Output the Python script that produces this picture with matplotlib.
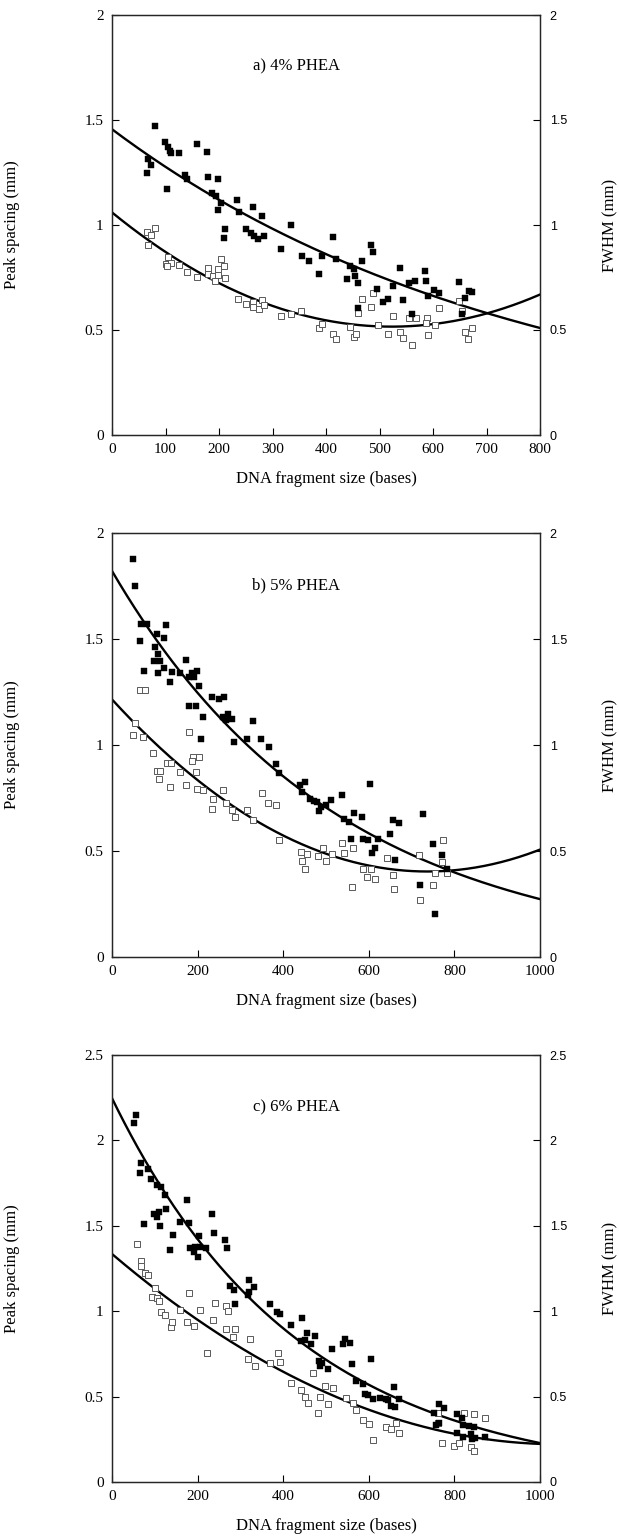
import numpy as np
import matplotlib
matplotlib.use("Agg")
import matplotlib.pyplot as plt

# ---------------- data ----------------
# Panel a) 4% PHEA
a_peak_x = [81, 99, 105, 108, 111, 125, 158, 178, 67, 73, 65, 102, 136, 140, 180, 199, 187, 194, 204, 198,
            233, 237, 263, 280, 212, 209, 251, 260, 265, 273, 285, 335, 316, 355, 369, 393, 386, 413, 419, 444,
            452, 467, 455, 440, 484, 488, 539, 459, 459, 496, 507, 516, 526, 543, 555, 567, 585, 587, 561, 602,
            611, 590, 648, 659, 667, 673, 654]
a_peak_y = [1.47, 1.395, 1.37, 1.354, 1.344, 1.343, 1.384, 1.346, 1.314, 1.286, 1.246, 1.173, 1.236, 1.219,
            1.23, 1.219, 1.152, 1.137, 1.105, 1.073, 1.12, 1.062, 1.084, 1.041, 0.979, 0.94, 0.981, 0.96, 0.949,
            0.932, 0.949, 1.0, 0.884, 0.854, 0.829, 0.854, 0.765, 0.943, 0.84, 0.803, 0.79, 0.827, 0.756, 0.743,
            0.906, 0.87, 0.797, 0.722, 0.606, 0.695, 0.632, 0.646, 0.711, 0.643, 0.725, 0.735, 0.782, 0.733,
            0.575, 0.69, 0.678, 0.662, 0.727, 0.652, 0.684, 0.683, 0.576]
a_fwhm_x = [65, 73, 81, 67, 105, 100, 110, 103, 126, 141, 159, 179, 180, 189, 198, 199, 204, 209, 212, 193,
            236, 250, 263, 274, 264, 281, 285, 316, 335, 353, 387, 393, 413, 419, 444, 452, 456, 467, 485, 488,
            459, 497, 516, 526, 539, 543, 556, 568, 560, 588, 587, 590, 604, 611, 649, 654, 659, 672, 666]
a_fwhm_y = [0.965, 0.952, 0.984, 0.905, 0.846, 0.812, 0.817, 0.806, 0.808, 0.776, 0.751, 0.794, 0.765, 0.757,
            0.762, 0.792, 0.84, 0.805, 0.748, 0.735, 0.648, 0.624, 0.635, 0.598, 0.608, 0.641, 0.619, 0.567,
            0.576, 0.592, 0.51, 0.529, 0.48, 0.457, 0.513, 0.468, 0.481, 0.646, 0.608, 0.678, 0.579, 0.525,
            0.482, 0.568, 0.489, 0.462, 0.557, 0.557, 0.429, 0.557, 0.533, 0.476, 0.524, 0.605, 0.64, 0.59,
            0.489, 0.511, 0.457]
a_peak_fit = [1.456, 762.0]                 # A * exp(-x / tau)
a_fwhm_fit = [1.0599, -0.0020807, 1.99e-6]  # c0 + c1 x + c2 x^2

# Panel b) 5% PHEA
b_peak_x = [50, 54, 68, 82, 125, 104, 65, 122, 101, 107, 97, 113, 121, 74, 108, 140, 173, 160, 179, 187, 192,
            199, 136, 203, 233, 250, 262, 181, 197, 213, 260, 271, 266, 281, 330, 209, 315, 349, 284, 366, 383,
            391, 439, 452, 443, 463, 471, 479, 483, 489, 501, 512, 537, 541, 553, 565, 585, 603, 657, 670, 727,
            559, 587, 598, 622, 649, 614, 607, 661, 749, 772, 783, 720, 755]
b_peak_y = [1.876, 1.752, 1.57, 1.572, 1.568, 1.525, 1.491, 1.505, 1.462, 1.429, 1.396, 1.398, 1.365, 1.349,
            1.338, 1.344, 1.402, 1.338, 1.319, 1.341, 1.321, 1.349, 1.296, 1.277, 1.226, 1.215, 1.226, 1.185,
            1.185, 1.13, 1.133, 1.145, 1.118, 1.121, 1.113, 1.03, 1.03, 1.03, 1.016, 0.989, 0.912, 0.867, 0.81,
            0.825, 0.777, 0.745, 0.737, 0.73, 0.689, 0.706, 0.718, 0.741, 0.766, 0.652, 0.638, 0.678, 0.66,
            0.815, 0.646, 0.633, 0.676, 0.557, 0.558, 0.55, 0.555, 0.58, 0.514, 0.491, 0.458, 0.535, 0.481,
            0.413, 0.34, 0.205]
b_fwhm_x = [65, 77, 54, 50, 73, 180, 96, 128, 137, 104, 112, 109, 136, 159, 173, 190, 204, 188, 196, 198, 213,
            260, 237, 266, 233, 281, 287, 315, 330, 350, 365, 383, 391, 442, 455, 443, 451, 482, 492, 501, 515,
            537, 542, 564, 586, 604, 595, 643, 657, 718, 755, 774, 782, 560, 615, 660, 720, 750, 770]
b_fwhm_y = [1.259, 1.259, 1.102, 1.047, 1.039, 1.06, 0.96, 0.914, 0.914, 0.879, 0.879, 0.838, 0.8, 0.874,
            0.811, 0.942, 0.942, 0.926, 0.874, 0.791, 0.786, 0.786, 0.745, 0.725, 0.697, 0.693, 0.662, 0.693,
            0.646, 0.772, 0.725, 0.717, 0.552, 0.497, 0.486, 0.453, 0.414, 0.476, 0.514, 0.454, 0.486, 0.536,
            0.489, 0.514, 0.414, 0.414, 0.379, 0.468, 0.387, 0.483, 0.395, 0.552, 0.398, 0.33, 0.37, 0.32,
            0.27, 0.34, 0.45]
b_peak_fit = [1.821, 527.0]
b_fwhm_fit = [1.215, -0.0022027, 1.4944e-6]

# Panel c) 6% PHEA
c_peak_x = [56, 51, 68, 85, 66, 90, 106, 115, 123, 127, 99, 104, 109, 75, 112, 175, 160, 180, 234, 238, 142,
            204, 265, 268, 136, 182, 194, 205, 219, 192, 201, 275, 284, 287, 320, 332, 320, 318, 369, 386, 392,
            419, 445, 455, 475, 452, 442, 465, 514, 539, 545, 556, 561, 605, 483, 491, 487, 504, 569, 586, 590,
            598, 609, 625, 640, 646, 660, 652, 662, 671, 765, 775, 753, 765, 757, 807, 817, 821, 835, 846, 807,
            821, 838, 848, 842, 871]
c_peak_y = [2.147, 2.102, 1.87, 1.833, 1.807, 1.776, 1.739, 1.729, 1.68, 1.596, 1.567, 1.553, 1.581, 1.512,
            1.499, 1.649, 1.524, 1.518, 1.567, 1.46, 1.446, 1.442, 1.417, 1.368, 1.358, 1.368, 1.374, 1.377,
            1.372, 1.349, 1.319, 1.149, 1.124, 1.04, 1.183, 1.142, 1.114, 1.095, 1.042, 0.997, 0.984, 0.921,
            0.962, 0.871, 0.857, 0.831, 0.826, 0.806, 0.777, 0.806, 0.837, 0.814, 0.691, 0.722, 0.71, 0.695,
            0.681, 0.663, 0.591, 0.574, 0.515, 0.511, 0.484, 0.494, 0.486, 0.48, 0.558, 0.445, 0.437, 0.484,
            0.455, 0.431, 0.402, 0.347, 0.334, 0.396, 0.376, 0.334, 0.33, 0.324, 0.289, 0.262, 0.279, 0.26,
            0.25, 0.262]
c_fwhm_x = [58, 68, 67, 77, 83, 100, 93, 106, 110, 114, 123, 137, 141, 159, 181, 176, 191, 205, 221, 235, 240,
            267, 271, 266, 287, 283, 322, 318, 334, 369, 388, 392, 419, 442, 450, 458, 470, 481, 487, 497, 504,
            516, 546, 563, 569, 586, 601, 609, 640, 652, 664, 671, 772, 800, 811, 823, 838, 845, 846, 872, 761,
            761]
c_fwhm_y = [1.393, 1.296, 1.265, 1.226, 1.212, 1.138, 1.085, 1.076, 1.061, 0.997, 0.978, 0.906, 0.939, 1.007,
            1.105, 0.939, 0.913, 1.007, 0.757, 0.948, 1.046, 1.03, 1.003, 0.894, 0.894, 0.851, 0.835, 0.718,
            0.679, 0.698, 0.753, 0.701, 0.581, 0.539, 0.496, 0.461, 0.64, 0.406, 0.499, 0.564, 0.455, 0.549,
            0.49, 0.461, 0.422, 0.363, 0.34, 0.246, 0.324, 0.308, 0.347, 0.289, 0.227, 0.211, 0.23, 0.406,
            0.207, 0.183, 0.398, 0.373, 0.402, 0.344]
c_peak_fit = [2.247, 437.0]
c_fwhm_fit = [1.335, -0.0021314, 1.0194e-6]

panel_titles = ["a) 4% PHEA", "b) 5% PHEA", "c) 6% PHEA"]
x_limits = [800, 1000, 1000]
x_steps = [100, 200, 200]
y_limits = [2.0, 2.0, 2.5]

# ---------------- figure ----------------
SERIF = ["Liberation Serif", "DejaVu Serif"]
SANS = ["Liberation Sans", "DejaVu Sans"]
plt.rcParams["font.family"] = SERIF

W, H = 619, 1539
fig = plt.figure(figsize=(W / 100, H / 100), dpi=100)

# axes boxes in pixels: (top, bottom)
boxes = [(15, 435), (533, 957), (1055, 1482)]
left_px, right_px = 112, 540

panels = [
    (a_peak_x, a_peak_y, a_fwhm_x, a_fwhm_y, a_peak_fit, a_fwhm_fit),
    (b_peak_x, b_peak_y, b_fwhm_x, b_fwhm_y, b_peak_fit, b_fwhm_fit),
    (c_peak_x, c_peak_y, c_fwhm_x, c_fwhm_y, c_peak_fit, c_fwhm_fit),
]

def fmt(v):
    s = f"{v:g}"
    return s

for i, (px, py, fx, fy, pfit, ffit) in enumerate(panels):
    top, bot = boxes[i]
    ax = fig.add_axes([left_px / W, 1 - bot / H, (right_px - left_px) / W, (bot - top) / H])
    xmax, ymax = x_limits[i], y_limits[i]
    ax.set_xlim(0, xmax)
    ax.set_ylim(0, ymax)

    xs = np.linspace(0, xmax, 400)
    ax.plot(xs, pfit[0] * np.exp(-xs / pfit[1]), color="black", lw=1.7, zorder=2)
    ax.plot(xs, ffit[0] + ffit[1] * xs + ffit[2] * xs ** 2, color="black", lw=1.7, zorder=2)

    ax.plot(fx, fy, ls="none", marker="s", ms=4.0, mfc="white", mec="0.35", mew=0.7, zorder=3)
    ax.plot(px, py, ls="none", marker="s", ms=3.8, mfc="black", mec="black", mew=0.3, zorder=4)

    yt = np.arange(0, ymax + 0.01, 0.5)
    xt = np.arange(0, xmax + 1, x_steps[i])
    ax.set_yticks(yt)
    ax.set_yticklabels([fmt(v) for v in yt], fontsize=11)
    ax.set_xticks(xt)
    ax.set_xticklabels([str(int(v)) for v in xt], fontsize=11)
    ax.tick_params(direction="in", length=5, width=0.8, top=False, right=False, pad=6)
    for s in ax.spines.values():
        s.set_linewidth(0.9)
        s.set_color("0.15")

    ax.set_xlabel("DNA fragment size (bases)", fontsize=12)
    ax.xaxis.set_label_coords(0.5, -0.085)
    ax.set_ylabel("Peak spacing (mm)", fontsize=12)
    ax.yaxis.set_label_coords(-0.215, 0.5)

    ax.text(0.43, 0.877, panel_titles[i], transform=ax.transAxes, ha="center", va="center", fontsize=12)

    ax2 = ax.twinx()
    ax2.set_ylim(0, ymax)
    ax2.set_yticks(yt)
    ax2.set_yticklabels([fmt(v) for v in yt], fontsize=9, family=SANS)
    ax2.tick_params(direction="in", length=5, width=0.8, pad=7)
    ax2.set_ylabel("FWHM (mm)", fontsize=12, rotation=90)
    ax2.yaxis.set_label_coords(1.145, 0.5)
    for s in ax2.spines.values():
        s.set_linewidth(0.9)
        s.set_color("0.15")

fig.savefig("out.png", dpi=100)
